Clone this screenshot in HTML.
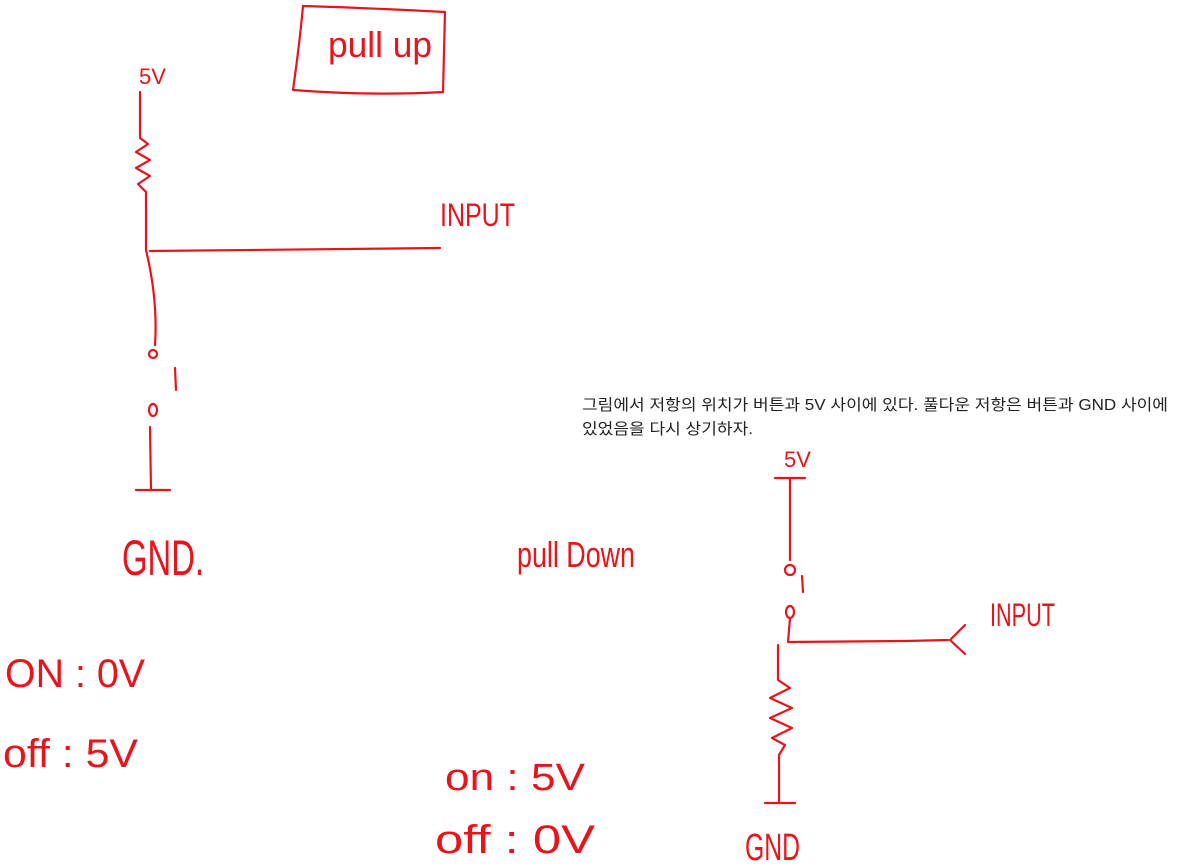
<!DOCTYPE html>
<html><head><meta charset="utf-8"><style>
html,body{margin:0;padding:0;background:#fff;width:1180px;height:866px;overflow:hidden}
svg{display:block}
.s{fill:none;stroke:#e8141c;stroke-width:2.2;stroke-linecap:round;stroke-linejoin:round}
.h{fill:#e8141c;font-family:"Liberation Sans",sans-serif;font-weight:normal}
.k{font-family:"Liberation Sans","Noto Sans CJK KR",sans-serif;font-size:15.5px;fill:#222}
</style></head><body>
<svg width="1180" height="866" viewBox="0 0 1180 866">
<g>
<path class="s" d="M303 6 Q300 40 293 90 Q370 96 443 92 L445 12 Q370 8 303 6"/>
<text class="h" x="328" y="57" font-size="36" textLength="104" lengthAdjust="spacingAndGlyphs">pull up</text>
<text class="h" x="139" y="84" font-size="22">5V</text>
<path class="s" d="M140 92 L140 138 L148 144 L136 152 L150 160 L136 168 L150 176 L138 184 L146 192 L146 250 Q158 300 155 345"/>
<path class="s" d="M150 251 L440 248"/>
<text class="h" x="440" y="226" font-size="32" textLength="75" lengthAdjust="spacingAndGlyphs">INPUT</text>
<circle class="s" cx="153" cy="354" r="4"/>
<path class="s" d="M175 368 L176 390"/>
<ellipse class="s" cx="153" cy="410" rx="4" ry="6"/>
<path class="s" d="M150 427 L151 490 M136 490 L170 490"/>
<text class="h" x="122" y="575" font-size="50" textLength="82" lengthAdjust="spacingAndGlyphs">GND.</text>
<text class="h" x="5" y="687" font-size="40" textLength="140" lengthAdjust="spacingAndGlyphs">ON :  0V</text>
<text class="h" x="3" y="767" font-size="40" textLength="135" lengthAdjust="spacingAndGlyphs">off :  5V</text>
</g>
<text class="k" x="582" y="410" textLength="586" lengthAdjust="spacingAndGlyphs">그림에서 저항의 위치가 버튼과 5V 사이에 있다. 풀다운 저항은 버튼과 GND 사이에</text>
<text class="k" x="582" y="434" textLength="171" lengthAdjust="spacingAndGlyphs">있었음을 다시 상기하자.</text>
<g>
<text class="h" x="517" y="567" font-size="36" textLength="118" lengthAdjust="spacingAndGlyphs">pull Down</text>
<text class="h" x="784" y="467" font-size="22">5V</text>
<path class="s" d="M775 478 L805 478 M790 478 L790 560"/>
<circle class="s" cx="790" cy="570" r="5"/>
<path class="s" d="M802 576 L803 592"/>
<ellipse class="s" cx="790" cy="612" rx="4" ry="6"/>
<path class="s" d="M790 618 L788 642 L905 641 L948 640 M965 625 L950 640 L965 654"/>
<text class="h" x="990" y="626" font-size="32" textLength="65" lengthAdjust="spacingAndGlyphs">INPUT</text>
<path class="s" d="M778 645 L778 680 L790 688 L770 698 L792 708 L770 718 L792 728 L772 738 L785 745 L779 755 L779 803 M765 803 L795 803"/>
<text class="h" x="745" y="860" font-size="38" textLength="55" lengthAdjust="spacingAndGlyphs">GND</text>
<text class="h" x="445" y="790" font-size="38" textLength="140" lengthAdjust="spacingAndGlyphs">on :  5V</text>
<text class="h" x="435" y="853" font-size="40" textLength="160" lengthAdjust="spacingAndGlyphs">off :  0V</text>
</g>
</svg>
</body></html>
